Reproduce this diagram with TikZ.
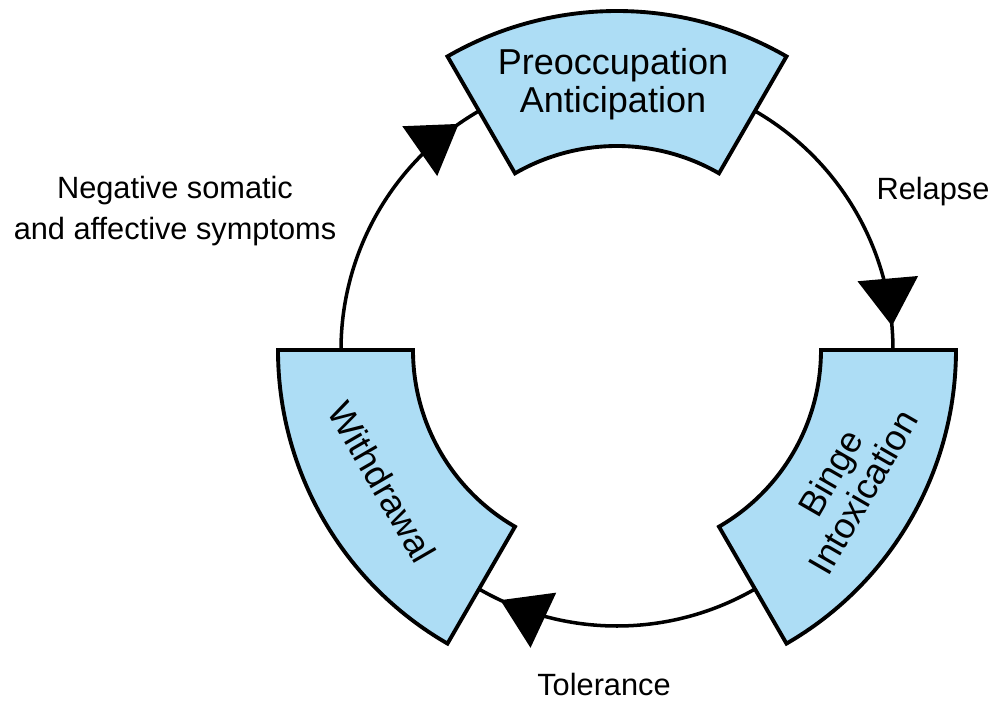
\documentclass[tikz,border=0pt]{standalone}
\usepackage{fontspec}
\setmainfont{Liberation Sans}
\usetikzlibrary{arrows.meta,decorations.markings}
\definecolor{boxblue}{RGB}{173,221,245}

\begin{document}
\begin{tikzpicture}
     [
     every node/.style={inner sep=0pt, align=center},
     stage/.style={fill=boxblue, draw=black, line width=2.2pt},
     stagetext/.style={font=\fontsize{20.5}{21.6}\selectfont},
     sidetext/.style={font=\fontsize{17.5}{23.3}\selectfont},
     loopline/.style={line width=2pt, postaction={decorate},
       decoration={markings, mark=at position 0.9167 with {\arrow{Triangle[length=0.95cm,width=1.2cm]}}}}
     ]
     \useasboundingbox (-12.34,-7.08) rectangle (7.6,7.0);
     \coordinate (with-t) at (180:5.52);
     \coordinate (pre-r) at (60:5.52);
     \coordinate (binge-b) at (300:5.52);
     \draw[loopline] (with-t) arc[start angle=180, end angle=120, radius=5.52];
     \draw[loopline] (pre-r) arc[start angle=60, end angle=0, radius=5.52];
     \draw[loopline] (binge-b) arc[start angle=300, end angle=240, radius=5.52];
     \draw[stage] (60:4.08) arc[start angle=60, end angle=120, radius=4.08]
       -- (120:6.78) arc[start angle=120, end angle=60, radius=6.78] -- cycle;
     \draw[stage] (180:4.08) arc[start angle=180, end angle=240, radius=4.08]
       -- (240:6.78) arc[start angle=240, end angle=180, radius=6.78] -- cycle;
     \draw[stage] (300:4.08) arc[start angle=300, end angle=360, radius=4.08]
       -- (360:6.78) arc[start angle=360, end angle=300, radius=6.78] -- cycle;
     \node[stagetext] (preocc) at (-0.08,5.32) {Preoccupation\\Anticipation};
     \node[stagetext, rotate=-60] (withdraw) at (-4.7,-2.64) {Withdrawal};
     \node[stagetext, rotate=60] (binge) at (330:5.3) {Binge\\Intoxication};
     \node[sidetext] (negative) at (-8.84,2.78) {Negative somatic\\and affective symptoms};
     \node[sidetext] (relapse) at (6.32,3.16) {Relapse};
     \node[sidetext] (tolerance) at (-0.26,-6.7) {Tolerance};
\end{tikzpicture}
\end{document}
